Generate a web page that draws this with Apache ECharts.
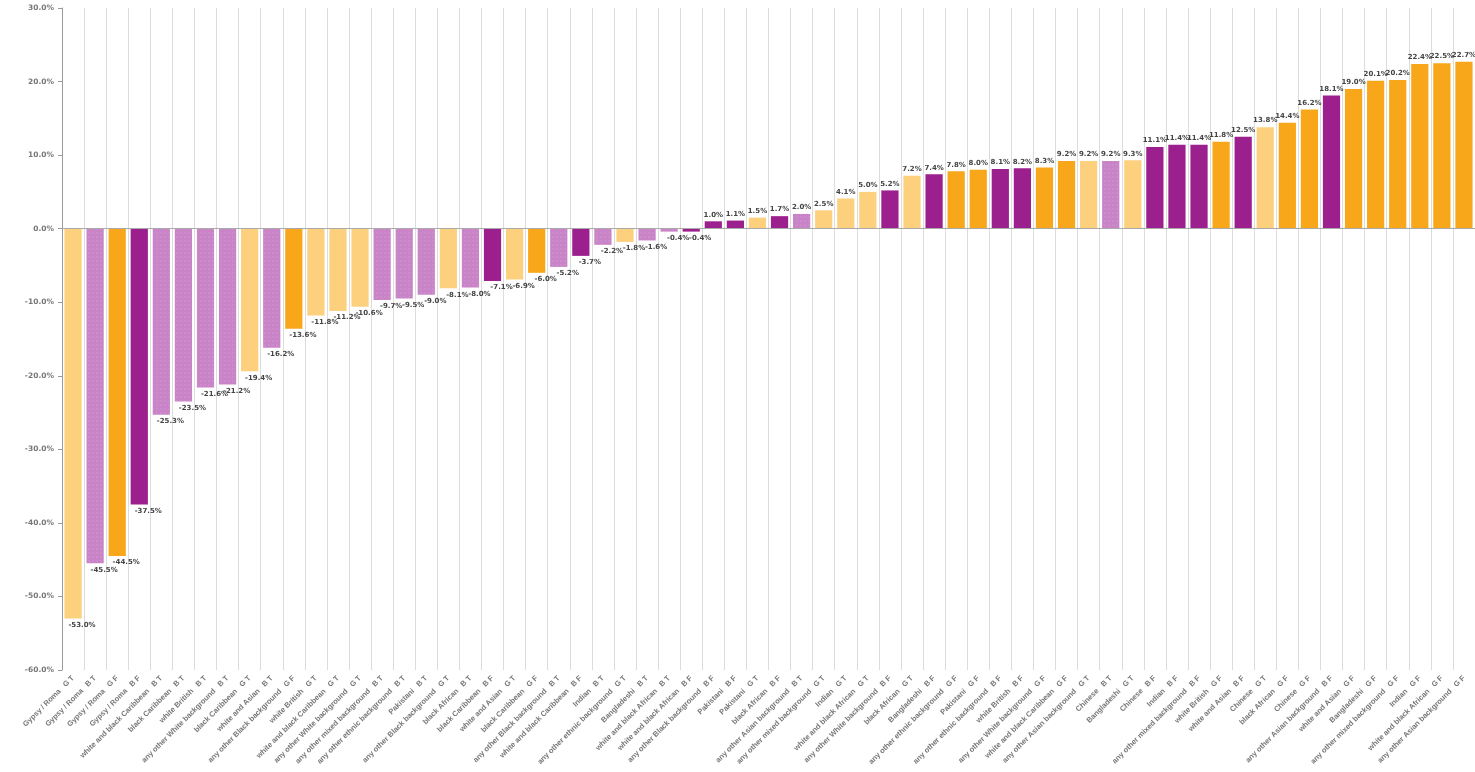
<!DOCTYPE html>
<html><head><meta charset="utf-8">
<script src="https://cdn.jsdelivr.net/npm/echarts@6/dist/echarts.min.js"></script>
<style>html,body{margin:0;padding:0;background:#fff}#c{width:1475px;height:772px}</style>
</head><body><div id="c"></div>
<script>
const groups = ["Gypsy / Roma","Gypsy / Roma","Gypsy / Roma","Gypsy / Roma","white and black Caribbean","black Caribbean","white British","any other White background","black Caribbean","white and Asian","any other Black background","white British","white and black Caribbean","any other White background","any other mixed background","any other ethnic background","Pakistani","any other Black background","black African","black Caribbean","white and Asian","black Caribbean","any other Black background","white and black Caribbean","Indian","any other ethnic background","Bangladeshi","white and black African","white and black African","any other Black background","Pakistani","Pakistani","black African","any other Asian background","any other mixed background","Indian","white and black African","any other White background","black African","Bangladeshi","any other ethnic background","Pakistani","any other ethnic background","white British","any other White background","white and black Caribbean","any other Asian background","Chinese","Bangladeshi","Chinese","Indian","any other mixed background","white British","white and Asian","Chinese","black African","Chinese","any other Asian background","white and Asian","Bangladeshi","any other mixed background","Indian","white and black African","any other Asian background"];
const codes = ["G T","B T","G F","B F","B T","B T","B T","B T","G T","B T","G F","G T","G T","G T","B T","B T","B T","G T","B T","B F","G T","G F","B T","B F","B T","G T","B T","B T","B F","B F","B F","G T","B F","B T","G T","G T","G T","B F","G T","B F","G F","G F","B F","B F","G F","G F","G T","B T","G T","B F","B F","B F","G F","B F","G T","G F","G F","B F","G F","G F","G F","G F","G F","G F"];
const values = [-53.0,-45.5,-44.5,-37.5,-25.3,-23.5,-21.6,-21.2,-19.4,-16.2,-13.6,-11.8,-11.2,-10.6,-9.7,-9.5,-9.0,-8.1,-8.0,-7.1,-6.9,-6.0,-5.2,-3.7,-2.2,-1.8,-1.6,-0.4,-0.4,1.0,1.1,1.5,1.7,2.0,2.5,4.1,5.0,5.2,7.2,7.4,7.8,8.0,8.1,8.2,8.3,9.2,9.2,9.2,9.3,11.1,11.4,11.4,11.8,12.5,13.8,14.4,16.2,18.1,19.0,20.1,20.2,22.4,22.5,22.7];
const yTicks = [-60,-50,-40,-30,-20,-10,0,10,20,30];

const colorMap = {"G T":"#fdd07e","G F":"#f9a71a","B T":"#c984c8","B F":"#9c1f8e"};
const cats = groups.map((g,i)=>g+"   "+codes[i]);
const data = values.map((v,i)=>{
  const c = codes[i];
  const item = {value:v, itemStyle:{color:colorMap[c]}};
  if (c === "B T") item.itemStyle.decal = {symbol:'rect', symbolSize:0.5, dashArrayX:[2,2], dashArrayY:[2,2], color:'rgba(255,255,255,0.25)', rotation:0};
  item.label = v < 0 ? {position:'bottom', offset:[9,0]} : {position:'top'};
  return item;
});

const chart = echarts.init(document.getElementById('c'));
chart.setOption({
  animation:false,
  grid:{left:62, right:0, top:8, bottom:102, containLabel:false, outerBoundsMode:'none'},
  xAxis:{type:'category', data:cats,
    axisLine:{show:false}, axisTick:{show:false},
    splitLine:{show:true, lineStyle:{color:'#dcdcdc', width:1}},
    axisLabel:{interval:0, rotate:45, fontSize:7.5, fontWeight:'bold', color:'#777', fontFamily:'Liberation Sans', margin:7}
  },
  yAxis:{type:'value', min:yTicks[0], max:yTicks[yTicks.length-1], interval:10,
    axisLine:{show:true, lineStyle:{color:'#999'}}, axisTick:{show:true, length:4, lineStyle:{color:'#999'}},
    splitLine:{show:false},
    axisLabel:{fontSize:7.5, fontWeight:'bold', color:'#777', fontFamily:'DejaVu Sans', formatter:v=>v.toFixed(1)+'%'}
  },
  series:[{type:'bar', data:data, barCategoryGap:'22%',
    label:{show:true, fontSize:7, fontWeight:'bold', color:'#444', fontFamily:'DejaVu Sans', distance:3,
      formatter:p=>p.value.toFixed(1)+'%'},
    markLine:{silent:true, symbol:'none', label:{show:false}, lineStyle:{color:'#aaa', type:'solid', width:1}, data:[{yAxis:0}]}
  }]
});
</script></body></html>
